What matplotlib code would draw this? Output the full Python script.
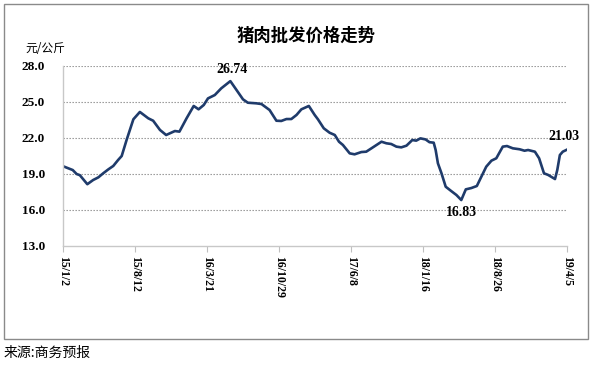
import pandas as pd
import matplotlib
matplotlib.use("Agg")
import matplotlib.pyplot as plt
from matplotlib.patches import Rectangle

plt.rcParams['font.family'] = ['Noto Sans CJK SC', 'DejaVu Sans']

# pork wholesale price, yuan/kg
dates = [
    "2015-01-02", "2015-02-01", "2015-02-13", "2015-02-23", "2015-03-18", "2015-04-05",
    "2015-04-21", "2015-05-06", "2015-05-22", "2015-06-06", "2015-06-21", "2015-07-02",
    "2015-07-17", "2015-08-07", "2015-08-27", "2015-09-22", "2015-10-07", "2015-10-28",
    "2015-11-16", "2015-12-13", "2015-12-27", "2016-01-18", "2016-02-09", "2016-02-24",
    "2016-03-11", "2016-03-24", "2016-04-14", "2016-05-04", "2016-06-01", "2016-06-20",
    "2016-07-10", "2016-07-25", "2016-08-20", "2016-09-05", "2016-09-30", "2016-10-21",
    "2016-11-05", "2016-11-21", "2016-12-06", "2016-12-22", "2017-01-06", "2017-01-29",
    "2017-02-16", "2017-02-26", "2017-03-16", "2017-04-03", "2017-04-19", "2017-05-02",
    "2017-05-14", "2017-06-04", "2017-06-19", "2017-07-10", "2017-07-25", "2017-08-10",
    "2017-09-10", "2017-09-25", "2017-10-10", "2017-10-26", "2017-11-10", "2017-11-26",
    "2017-12-14", "2017-12-26", "2018-01-08", "2018-01-24", "2018-02-05", "2018-02-18",
    "2018-02-24", "2018-03-03", "2018-03-14", "2018-03-27", "2018-04-13", "2018-04-29",
    "2018-05-14", "2018-05-28", "2018-06-14", "2018-07-01", "2018-07-15", "2018-07-30",
    "2018-08-15", "2018-08-30", "2018-09-19", "2018-10-02", "2018-10-20", "2018-11-10",
    "2018-11-25", "2018-12-06", "2018-12-27", "2019-01-09", "2019-01-24", "2019-02-06",
    "2019-02-27", "2019-03-06", "2019-03-14", "2019-03-23", "2019-04-05",
]
prices = [
    19.65, 19.33, 19.00, 18.90, 18.15, 18.50,
    18.72, 19.06, 19.39, 19.67, 20.17, 20.50,
    21.83, 23.56, 24.17, 23.64, 23.44, 22.67,
    22.25, 22.58, 22.53, 23.64, 24.67, 24.39,
    24.75, 25.30, 25.58, 26.14, 26.74, 26.00,
    25.22, 24.94, 24.89, 24.83, 24.33, 23.44,
    23.42, 23.58, 23.58, 23.92, 24.39, 24.67,
    23.92, 23.56, 22.81, 22.44, 22.25, 21.69,
    21.42, 20.72, 20.64, 20.83, 20.86, 21.14,
    21.69, 21.56, 21.50, 21.28, 21.22, 21.36,
    21.83, 21.78, 21.97, 21.88, 21.65, 21.61,
    21.00, 19.89, 19.06, 17.94, 17.58, 17.25,
    16.83, 17.72, 17.83, 18.00, 18.78, 19.61,
    20.11, 20.31, 21.28, 21.33, 21.14, 21.06,
    20.94, 21.00, 20.86, 20.31, 19.06, 18.92,
    18.58, 19.33, 20.58, 20.86, 21.03,
]

tick_dates = ["2015-01-02", "2015-08-12", "2016-03-21", "2016-10-29",
              "2017-06-08", "2018-01-16", "2018-08-26", "2019-04-05"]
tick_labels = ["15/1/2", "15/8/12", "16/3/21", "16/10/29",
               "17/6/8", "18/1/16", "18/8/26", "19/4/5"]
y_ticks = [13.0, 16.0, 19.0, 22.0, 25.0, 28.0]

# labelled points: (date, value, text)
notes = [("2016-06-01", 26.74, "26.74"), ("2018-05-14", 16.83, "16.83"),
         ("2019-04-05", 21.03, "21.03")]

x = pd.to_datetime(dates)
serif = ['Liberation Serif', 'DejaVu Serif']

fig = plt.figure(figsize=(5.94, 3.68), dpi=100)
ax = fig.add_axes([63 / 594, 1 - 246 / 368, 504 / 594, 180 / 368])

ax.plot(x, prices, color='#1f3b6b', lw=1.9, solid_joinstyle='round')

ax.set_xlim(pd.Timestamp(tick_dates[0]), pd.Timestamp(tick_dates[-1]))
ax.set_ylim(13, 28)

ax.set_yticks(y_ticks)
ax.set_yticklabels([f"{v:.1f}" for v in y_ticks], family=serif,
                   fontweight='bold', fontsize=9.5)
ax.set_xticks(pd.to_datetime(tick_dates))
ax.set_xticklabels(tick_labels, rotation=270, family=serif,
                   fontweight='bold', fontsize=8.5, va='top', ha='center')

ax.tick_params(axis='y', length=0, pad=13)
ax.tick_params(axis='x', length=4, width=0.8, color='#bfbfbf', pad=3)

for v in y_ticks[1:]:
    ax.axhline(v, color='#8c8c8c', lw=0.8, ls=(0, (1.2, 1.5)), zorder=0)

for side in ['top', 'right']:
    ax.spines[side].set_visible(False)
for side in ['left', 'bottom']:
    ax.spines[side].set_color('#c8c8c8')
    ax.spines[side].set_linewidth(1.0)

# value labels
ax.annotate(notes[0][2], (pd.Timestamp(notes[0][0]), notes[0][1]),
            xytext=(1, 4), textcoords='offset points', ha='center', va='bottom',
            family=serif, fontweight='bold', fontsize=10)
ax.annotate(notes[1][2], (pd.Timestamp(notes[1][0]), notes[1][1]),
            xytext=(0, -4), textcoords='offset points', ha='center', va='top',
            family=serif, fontweight='bold', fontsize=10)
ax.annotate(notes[2][2], (pd.Timestamp(notes[2][0]), notes[2][1]),
            xytext=(-2, 5), textcoords='offset points', ha='center', va='bottom',
            family=serif, fontweight='bold', fontsize=10)

fig.text(306 / 594, 1 - 36 / 368, "猪肉批发价格走势", ha='center', va='center',
         fontsize=12.5, fontweight='bold')
fig.text(25 / 594, 1 - 48 / 368, "元/公斤", ha='left', va='center', fontsize=8.5)
fig.text(4 / 594, 1 - 353 / 368, "来源:商务预报", ha='left', va='center', fontsize=10)

# outer frame
fig.patches.append(Rectangle((4 / 594, 1 - 339 / 368), 584 / 594, 335 / 368,
                             transform=fig.transFigure, fill=False,
                             edgecolor='#8a8a8a', lw=1.0))

fig.savefig("out.png", dpi=100)
